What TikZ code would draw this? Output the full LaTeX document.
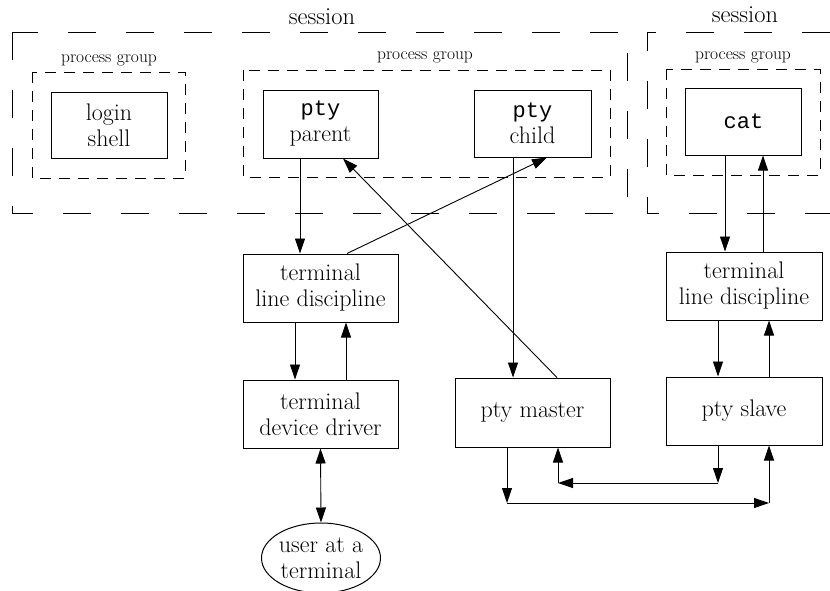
\documentclass[tikz,border=0pt]{standalone}
\usepackage{fontspec}
\newfontfamily\cour{Liberation Mono}
\usetikzlibrary{arrows.meta,shapes.geometric}
\tikzset{
  box/.style={draw,line width=1pt,inner sep=0pt,align=center,font=\fontsize{24}{26}\selectfont},
  sess/.style={draw,line width=1pt,dash pattern=on 28pt off 30pt},
  pgrp/.style={draw,line width=1pt,dash pattern=on 11pt off 8pt},
  lbl/.style={inner sep=0pt},
  tipx/.tip={Triangle[length=15pt,width=10pt]},
  arr/.style={line width=0.9pt,-tipx},
  darr/.style={line width=0.9pt,tipx-tipx},
}
\begin{document}
\begin{tikzpicture}[x=1pt,y=-1pt]
\useasboundingbox (0,0) rectangle (830,590);
\begin{scope}
\clip (0,0) rectangle (830,590);
% sessions
\draw[sess] (12,32) rectangle (627,213);
\draw[sess] (830,32) -- (647,32) -- (647,213) -- (830,213);
\node[lbl,font=\fontsize{24.5}{26}\selectfont] (s1) at (322,17) {session};
\node[lbl,font=\fontsize{24.5}{26}\selectfont] (s2) at (745,15) {session};
% process groups
\draw[pgrp] (32,72) rectangle (185,178);
\draw[pgrp] (243,70) rectangle (610,177);
\draw[pgrp] (666,69) rectangle (820,175);
\node[lbl,font=\fontsize{17.5}{19}\selectfont] (g1) at (109,60) {process group};
\node[lbl,font=\fontsize{17.5}{19}\selectfont] (g2) at (425,57) {process group};
\node[lbl,font=\fontsize{17.5}{19}\selectfont] (g3) at (743,57) {process group};
% boxes
\node[box,minimum width=116pt,minimum height=66pt] (login) at (109,125) {login\\shell};
\node[box,minimum width=115pt,minimum height=68pt] (parent) at (320.5,124) {{\cour\fontsize{22}{26}\selectfont pty}\\parent};
\node[box,minimum width=117pt,minimum height=67pt] (child) at (532.5,123.5) {{\cour\fontsize{22}{26}\selectfont pty}\\child};
\node[box,minimum width=116pt,minimum height=67pt] (cat) at (743.5,121.5) {{\cour\fontsize{22}{26}\selectfont cat}};
\node[box,minimum width=155pt,minimum height=68pt] (tld1) at (320.5,288) {terminal\\line discipline};
\node[box,minimum width=155pt,minimum height=68pt] (tdd) at (320.5,414) {terminal\\device driver};
\node[box,minimum width=155pt,minimum height=69pt] (master) at (532.5,412.5) {pty master};
\node[box,minimum width=156pt,minimum height=68pt] (slave) at (744,411) {pty slave};
\node[box,minimum width=156pt,minimum height=68pt] (tld2) at (744,286) {terminal\\line discipline};
\node[box,ellipse,minimum width=116pt,minimum height=70pt] (user) at (321,558) {user at a\\terminal};
% connectors
\draw[arr] ([xshift=-20.5pt]parent.south) -- ([xshift=-20.5pt]tld1.north);
\draw[arr] ([xshift=26.5pt]tld1.north) -- ([xshift=14.5pt]child.south);
\draw[arr] ([xshift=24.5pt]master.north) -- ([xshift=22.5pt]parent.south);
\draw[arr] ([xshift=-19.5pt]child.south) -- ([xshift=-19.5pt]master.north);
\draw[arr] ([xshift=-25.5pt]tld1.south) -- ([xshift=-25.5pt]tdd.north);
\draw[arr] ([xshift=25.5pt]tdd.north) -- ([xshift=25.5pt]tld1.south);
\draw[darr] (tdd.south) -- (user.north);
\draw[arr] ([xshift=-18.5pt]cat.south) -- ([xshift=-19pt]tld2.north);
\draw[arr] ([xshift=19pt]tld2.north) -- ([xshift=19.5pt]cat.south);
\draw[arr] ([xshift=-26pt]tld2.south) -- ([xshift=-26pt]slave.north);
\draw[arr] ([xshift=25pt]slave.north) -- ([xshift=25pt]tld2.south);
% bottom loops
\coordinate (a1) at (507,503);
\coordinate (a2) at (769,503);
\coordinate (b1) at (718,483);
\coordinate (b2) at (558,483);
\draw[arr] ([xshift=-25.5pt]master.south) -- (a1);
\draw[arr] (a1) -- (a2);
\draw[arr] (a2) -- ([xshift=25pt]slave.south);
\draw[arr] ([xshift=-26pt]slave.south) -- (b1);
\draw[arr] (b1) -- (b2);
\draw[arr] (b2) -- ([xshift=25.5pt]master.south);
\end{scope}
\end{tikzpicture}
\end{document}
